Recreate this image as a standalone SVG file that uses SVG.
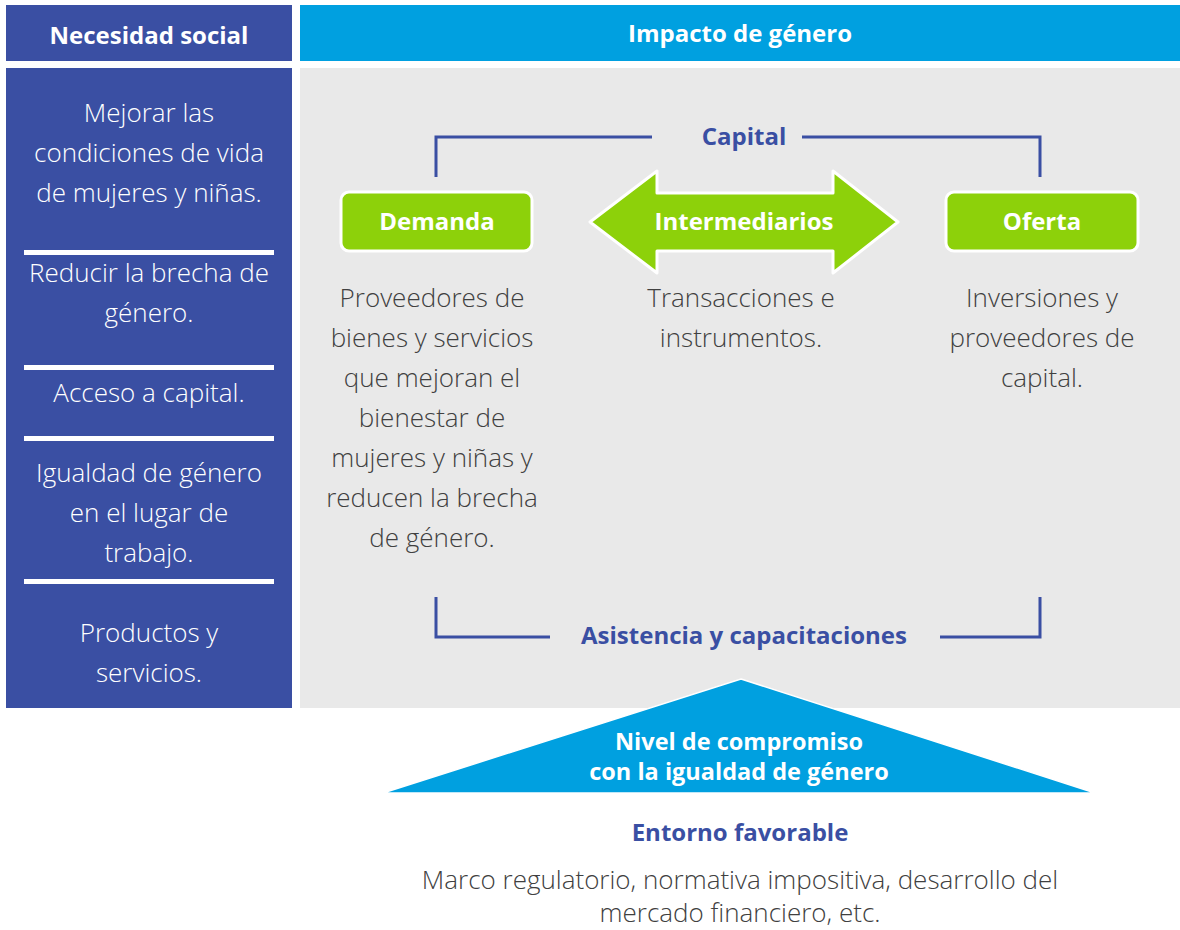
<svg xmlns="http://www.w3.org/2000/svg" width="1180" height="930" viewBox="0 0 1180 930">
<style>
text{font-family:"Open Sans","Liberation Sans",sans-serif;text-anchor:middle;dominant-baseline:central}
.h{font-weight:700;font-size:24px;fill:#fff}
.w{font-size:26px;fill:#fff;font-weight:300}
.g{font-size:26px;fill:#404040;font-weight:300}
.b{font-weight:700;font-size:24px;fill:#3A4FA3}
.wb{font-weight:700;font-size:24px;fill:#fff}
.ln{fill:none;stroke:#3A4FA3;stroke-width:3}
.sep{fill:#fff}
.green{fill:#8DD10A;stroke:#fff;stroke-width:3}
</style>
<rect width="1180" height="930" fill="#fff"/>
<g id="header-left"><rect x="6" y="5" width="286" height="56" fill="#3A4FA3"/><text class="h" x="149" y="34">Necesidad social</text></g>
<g id="header-right"><rect x="300" y="5" width="880" height="56" fill="#00A0E0"/><text class="h" x="740" y="32">Impacto de género</text></g>
<g id="left-column">
<rect x="6" y="68" width="286" height="640" fill="#3A4FA3"/>
<rect class="sep" x="24" y="250" width="250" height="5"/>
<rect class="sep" x="24" y="365" width="250" height="5"/>
<rect class="sep" x="24" y="436" width="250" height="5"/>
<rect class="sep" x="24" y="579" width="250" height="5"/>
<text class="w" x="149" y="112">Mejorar las</text>
<text class="w" x="149" y="152">condiciones de vida</text>
<text class="w" x="149" y="192">de mujeres y niñas.</text>
<text class="w" x="149" y="272">Reducir la brecha de</text>
<text class="w" x="149" y="312">género.</text>
<text class="w" x="149" y="392">Acceso a capital.</text>
<text class="w" x="149" y="472">Igualdad de género</text>
<text class="w" x="149" y="512">en el lugar de</text>
<text class="w" x="149" y="552">trabajo.</text>
<text class="w" x="149" y="632">Productos y</text>
<text class="w" x="149" y="672">servicios.</text>
</g>
<g id="panel"><rect x="300" y="68" width="880" height="640" fill="#E9E9E9"/></g>
<g id="connectors">
<path class="ln" d="M436 177 V137 H652 M802 137 H1040 V177"/>
<path class="ln" d="M436 597 V637 H550 M940 637 H1040 V597"/>
</g>
<g id="capital"><text class="b" x="744" y="135">Capital</text></g>
<g id="asistencia"><text class="b" x="744" y="634">Asistencia y capacitaciones</text></g>
<g id="demanda"><rect class="green" x="341" y="192" width="191" height="59" rx="8"/><text class="wb" x="437" y="220">Demanda</text></g>
<g id="oferta"><rect class="green" x="946" y="192" width="192" height="59" rx="8"/><text class="wb" x="1042" y="220">Oferta</text></g>
<g id="intermediarios"><path class="green" stroke-linejoin="round" d="M590 222 L657 171 V193 H833 V171 L898 222 L833 273 V251 H657 V273 Z"/><text class="wb" x="744" y="220">Intermediarios</text></g>
<g id="demanda-text">
<text class="g" x="432" y="297">Proveedores de</text>
<text class="g" x="432" y="337">bienes y servicios</text>
<text class="g" x="432" y="377">que mejoran el</text>
<text class="g" x="432" y="417">bienestar de</text>
<text class="g" x="432" y="457">mujeres y niñas y</text>
<text class="g" x="432" y="497">reducen la brecha</text>
<text class="g" x="432" y="537">de género.</text>
</g>
<g id="intermediarios-text">
<text class="g" x="741" y="297">Transacciones e</text>
<text class="g" x="741" y="337">instrumentos.</text>
</g>
<g id="oferta-text">
<text class="g" x="1042" y="297">Inversiones y</text>
<text class="g" x="1042" y="337">proveedores de</text>
<text class="g" x="1042" y="377">capital.</text>
</g>
<g id="nivel"><path d="M741 679 L1095 793 H383 Z" fill="#00A0E0" stroke="#fff" stroke-width="1.5"/>
<text class="wb" x="739" y="741" style="font-size:23.5px">Nivel de compromiso</text>
<text class="wb" x="739" y="771" style="font-size:23.5px">con la igualdad de género</text></g>
<g id="entorno"><text class="b" x="740" y="831">Entorno favorable</text>
<text class="g" x="740" y="879">Marco regulatorio, normativa impositiva, desarrollo del</text>
<text class="g" x="740" y="912">mercado financiero, etc.</text></g>
</svg>
